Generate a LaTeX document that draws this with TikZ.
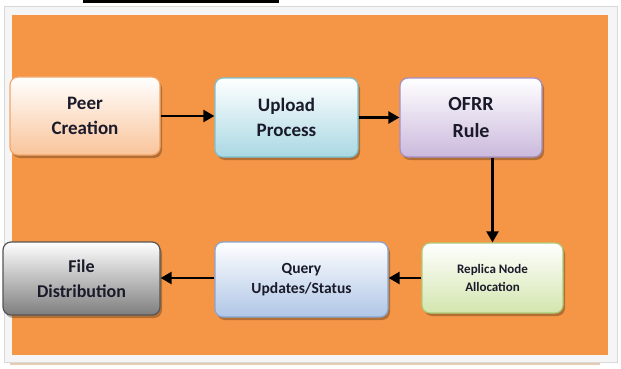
\documentclass[tikz,border=0pt]{standalone}
\usepackage{fontspec}
\setmainfont{Carlito}
\usetikzlibrary{arrows.meta,shadows}
\definecolor{bgorange}{HTML}{F59647}
\definecolor{txt}{HTML}{1A1A2A}
\definecolor{peerB}{HTML}{F9C49A}
\definecolor{peerD}{HTML}{F2A66A}
\definecolor{upB}{HTML}{A9D8E3}
\definecolor{upD}{HTML}{7CC3D3}
\definecolor{ofB}{HTML}{CBB9DD}
\definecolor{ofD}{HTML}{A48FC4}
\definecolor{repB}{HTML}{D3E6AE}
\definecolor{repD}{HTML}{AFCB7A}
\definecolor{qB}{HTML}{AFC6E6}
\definecolor{qD}{HTML}{88A6D4}
\definecolor{fB}{HTML}{7E7E7E}
\definecolor{fD}{HTML}{555555}
\begin{document}
\begin{tikzpicture}[x=1pt,y=-1pt,
  box/.style={rectangle, rounded corners=8pt, line width=1.2pt, align=center,
    text=txt, inner sep=2pt,
    drop shadow={shadow xshift=2pt, shadow yshift=-3pt, fill=black!70!brown, opacity=0.35}},
  flow/.style={line width=2.4pt, -{Triangle[length=11pt,width=12pt]}}]
\useasboundingbox (0,0) rectangle (621,369);
\fill[white] (0,0) rectangle (621,369);
\fill[black] (83,0) rectangle (279,3.5);
\filldraw[fill=gray!8, draw=gray!30, line width=0.8pt] (4,6) rectangle (617,362);
\draw[draw=brown!40, line width=1.5pt] (10,364) -- (600,364);
\fill[bgorange] (12,15) rectangle (608,355);

\node[box, draw=peerD, top color=white, bottom color=peerB, minimum width=150pt, minimum height=78pt,
  font=\fontsize{19}{25}\selectfont\bfseries] (peer) at (85,116) {Peer\\Creation};
\node[box, draw=upD, top color=white, bottom color=upB, minimum width=143pt, minimum height=79pt,
  font=\fontsize{19}{25}\selectfont\bfseries] (upload) at (286.5,117.5) {Upload\\Process};
\node[box, draw=ofD, top color=white, bottom color=ofB, minimum width=142pt, minimum height=79pt,
  font=\fontsize{20}{27}\selectfont\bfseries] (ofrr) at (471,117.5) {OFRR\\Rule};
\node[box, draw=repD, top color=white, bottom color=repB, minimum width=141pt, minimum height=70pt,
  font=\fontsize{13}{18}\selectfont\bfseries] (replica) at (492.5,278) {Replica Node\\Allocation};
\node[box, draw=qD, top color=white, bottom color=qB, minimum width=173pt, minimum height=75pt,
  font=\fontsize{15.5}{20}\selectfont\bfseries] (query) at (301.5,279.5) {Query\\Updates/Status};
\node[box, draw=fD, top color=white, bottom color=fB, minimum width=157pt, minimum height=73pt,
  font=\fontsize{18}{25}\selectfont\bfseries] (file) at (81.5,278.5) {File\\Distribution};

\draw[flow] (peer.east) -- (peer.east -| upload.west);
\draw[flow] (upload.east) -- (upload.east -| ofrr.west);
\draw[flow] (ofrr.south -| replica.north) -- (replica.north);
\draw[flow] (replica.west) -- (replica.west -| query.east);
\draw[flow] (replica.west -| query.west) -- (replica.west -| file.east);
\end{tikzpicture}
\end{document}
